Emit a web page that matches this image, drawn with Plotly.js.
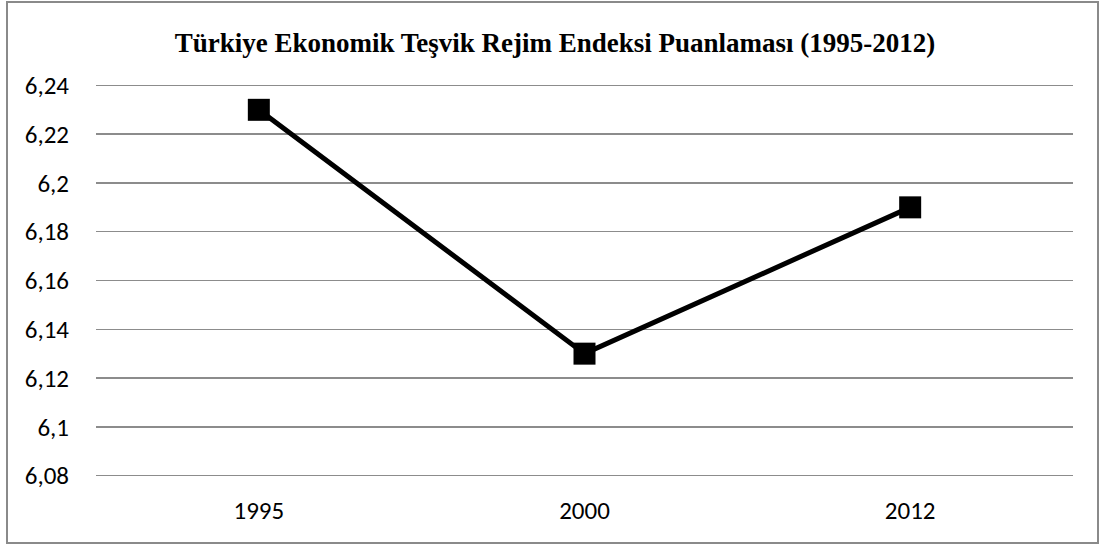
<!DOCTYPE html>
<html>
<head>
<meta charset="utf-8">
<script src="https://cdn.plot.ly/plotly-3.0.1.min.js"></script>
<style>html,body{margin:0;padding:0;background:#fff;}#chart{width:1103px;height:548px;}</style>
</head>
<body>
<div id="chart"></div>
<script>
var years = ['1995', '2000', '2012'];
var scores = [6.23, 6.13, 6.19];
var yTickVals = [6.08, 6.10, 6.12, 6.14, 6.16, 6.18, 6.20, 6.22, 6.24];
var yTickText = ['6,08', '6,1', '6,12', '6,14', '6,16', '6,18', '6,2', '6,22', '6,24'];
var titleText = 'Türkiye Ekonomik Teşvik Rejim Endeksi Puanlaması (1995-2012)';

var trace = {
  x: years,
  y: scores,
  type: 'scatter',
  mode: 'lines+markers',
  line: {color: '#000000', width: 5},
  marker: {symbol: 'square', size: 22, color: '#000000'},
  hoverinfo: 'none'
};

var tickFont = {family: 'Carlito, Lato, Open Sans, sans-serif', size: 25, color: '#000000'};

var layout = {
  width: 1103,
  height: 548,
  margin: {l: 96, r: 30, t: 83, b: 70},
  paper_bgcolor: '#ffffff',
  plot_bgcolor: '#ffffff',
  showlegend: false,
  title: {
    text: '<b>' + titleText + '</b>',
    font: {family: 'Liberation Serif, Times New Roman, serif', size: 27, color: '#000000'},
    x: 555 / 1103, xanchor: 'center',
    y: 1 - 43/548, yanchor: 'middle', yref: 'container'
  },
  xaxis: {
    type: 'category',
    range: [-0.5, 2.5],
    showgrid: false,
    showline: false,
    zeroline: false,
    ticks: '',
    ticklen: 0,
    ticklabelstandoff: 15,
    tickfont: tickFont,
    fixedrange: true
  },
  yaxis: {
    range: [6.079, 6.241],
    tickvals: yTickVals,
    ticktext: yTickText,
    showgrid: true,
    gridcolor: '#8c8c8c',
    gridwidth: 1.5,
    showline: false,
    zeroline: false,
    ticks: '',
    ticklabelstandoff: 26,
    tickfont: tickFont,
    fixedrange: true
  },
  shapes: [{
    type: 'rect',
    xref: 'paper', yref: 'paper',
    x0: (7 - 96) / 977, x1: (1098 - 96) / 977,
    y0: -(543 - 478) / 395, y1: (478 - 2) / 395,
    line: {color: '#8a8a8a', width: 2},
    fillcolor: 'rgba(0,0,0,0)',
    layer: 'below'
  }]
};

Plotly.newPlot('chart', [trace], layout, {displayModeBar: false, staticPlot: true});
</script>
</body>
</html>
